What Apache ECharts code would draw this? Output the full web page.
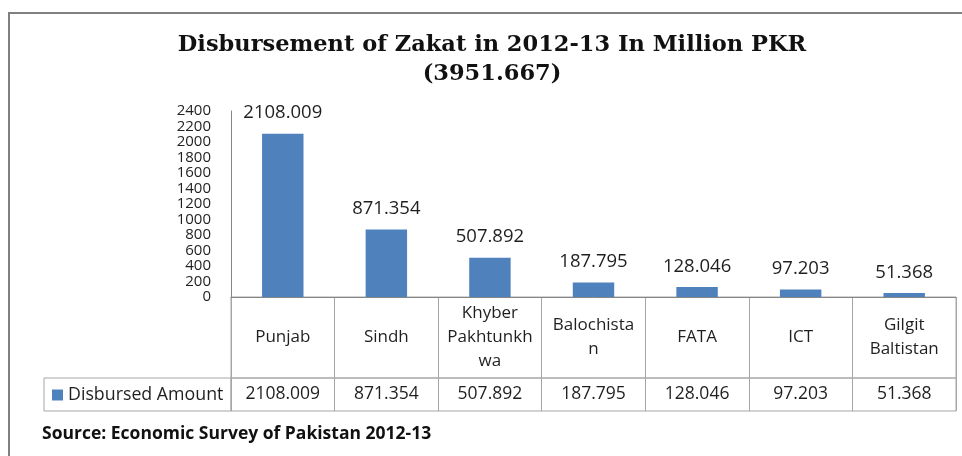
<!DOCTYPE html>
<html>
<head>
<meta charset="utf-8">
<script src="https://cdn.jsdelivr.net/npm/echarts@6/dist/echarts.min.js"></script>
<style>
  html, body { margin: 0; padding: 0; background: #ffffff; }
  #chart { width: 962px; height: 456px; }
</style>
</head>
<body>
<div id="chart"></div>
<script>
// ---- data ----
const categories = ['Punjab', 'Sindh', 'Khyber Pakhtunkhwa', 'Balochistan', 'FATA', 'ICT', 'Gilgit Baltistan'];
const categoryLabels = ['Punjab', 'Sindh', 'Khyber\nPakhtunkh\nwa', 'Balochista\nn', 'FATA', 'ICT', 'Gilgit\nBaltistan'];
const disbursed = [2108.009, 871.354, 507.892, 187.795, 128.046, 97.203, 51.368];
const seriesName = 'Disbursed Amount';
const yMin = 0, yMax = 2400, yInterval = 200;
const titleLine1 = 'Disbursement of Zakat in 2012-13 In Million PKR';
const titleLine2 = '(3951.667)';
const sourceText = 'Source: Economic Survey of Pakistan 2012-13';

// ---- styles ----
const FONT = 'Open Sans';
const TEXT = '#1f1f1f';
const TABLE_LINE = '#a6a6a6';
const AXIS_LINE = '#868686';
const BAR = '#4F81BD';

const PLOT_L = 231, PLOT_W = 725;

const chart = echarts.init(document.getElementById('chart'), null, { renderer: 'canvas' });

const hiddenAxis = (type, gridIndex, extra) => Object.assign({ type, gridIndex, show: false }, extra || {});

chart.setOption({
  backgroundColor: '#ffffff',
  animation: false,
  graphic: [{
    type: 'rect', silent: true, z: 0,
    shape: { x: 9, y: 13, width: 1000, height: 500 },
    style: { fill: 'none', stroke: '#808080', lineWidth: 2 }
  }],
  title: [{
    text: titleLine1 + '\n' + titleLine2,
    left: 492, top: 31, textAlign: 'center',
    padding: 0,
    textStyle: { fontFamily: 'DejaVu Serif', fontWeight: 'bold', fontSize: 22.5, lineHeight: 29, color: '#111' }
  }, {
    text: sourceText,
    left: 42, top: 425, padding: 0,
    textStyle: { fontFamily: FONT, fontWeight: 'bold', fontSize: 17.5, color: '#111' }
  }],
  legend: {
    data: [seriesName],
    left: 47, top: 381,
    icon: 'rect', itemWidth: 11, itemHeight: 11,
    selectedMode: false,
    textStyle: { fontFamily: FONT, fontSize: 17.8, color: TEXT }
  },
  grid: [
    { left: PLOT_L, top: 111, width: PLOT_W, height: 186 },
    { left: PLOT_L, top: 297, width: PLOT_W, height: 81, show: true, borderColor: TABLE_LINE, borderWidth: 1, backgroundColor: 'transparent' },
    { left: PLOT_L, top: 378, width: PLOT_W, height: 33, show: true, borderColor: TABLE_LINE, borderWidth: 1, backgroundColor: 'transparent' },
    { left: 44, top: 378, width: 187, height: 33, show: true, borderColor: TABLE_LINE, borderWidth: 1, backgroundColor: 'transparent' }
  ],
  xAxis: [
    { type: 'category', gridIndex: 0, data: categories,
      axisLine: { show: true, lineStyle: { color: AXIS_LINE } },
      axisTick: { show: false }, axisLabel: { show: false }, splitLine: { show: false } },
    { type: 'category', gridIndex: 1, data: categoryLabels, position: 'bottom',
      axisLine: { show: false }, axisTick: { show: false },
      splitLine: { show: true, interval: 0, lineStyle: { color: TABLE_LINE } },
      axisLabel: { interval: 0, margin: -40.5, verticalAlign: 'middle', align: 'center', lineHeight: 24,
        fontFamily: FONT, fontSize: 17, color: TEXT } },
    { type: 'category', gridIndex: 2, data: categories, position: 'bottom',
      axisLine: { show: false }, axisTick: { show: false },
      splitLine: { show: true, interval: 0, lineStyle: { color: TABLE_LINE } },
      axisLabel: { interval: 0, margin: -16.5, verticalAlign: 'middle', align: 'center',
        fontFamily: FONT, fontSize: 17.5, color: TEXT,
        formatter: (v, i) => disbursed[i].toFixed(3) } },
    hiddenAxis('category', 3, { data: [''] })
  ],
  yAxis: [
    { type: 'value', gridIndex: 0, min: yMin, max: yMax, interval: yInterval,
      axisLine: { show: true, lineStyle: { color: AXIS_LINE } },
      axisTick: { show: false }, splitLine: { show: false },
      axisLabel: { margin: 20, fontFamily: FONT, fontSize: 15, lineHeight: 14, color: TEXT,
        showMinLabel: true, showMaxLabel: true, hideOverlap: false,
        formatter: v => String(v) } },
    hiddenAxis('value', 1, { min: 0, max: 1 }),
    hiddenAxis('value', 2, { min: 0, max: 1 }),
    hiddenAxis('value', 3, { min: 0, max: 1 })
  ],
  series: [{
    name: seriesName,
    type: 'bar',
    xAxisIndex: 0, yAxisIndex: 0,
    data: disbursed,
    barWidth: '40%',
    itemStyle: { color: BAR },
    label: { show: true, position: 'top', distance: 11,
      fontFamily: FONT, fontSize: 18.5, color: TEXT,
      formatter: p => p.value.toFixed(3) }
  }]
});
</script>
</body>
</html>
